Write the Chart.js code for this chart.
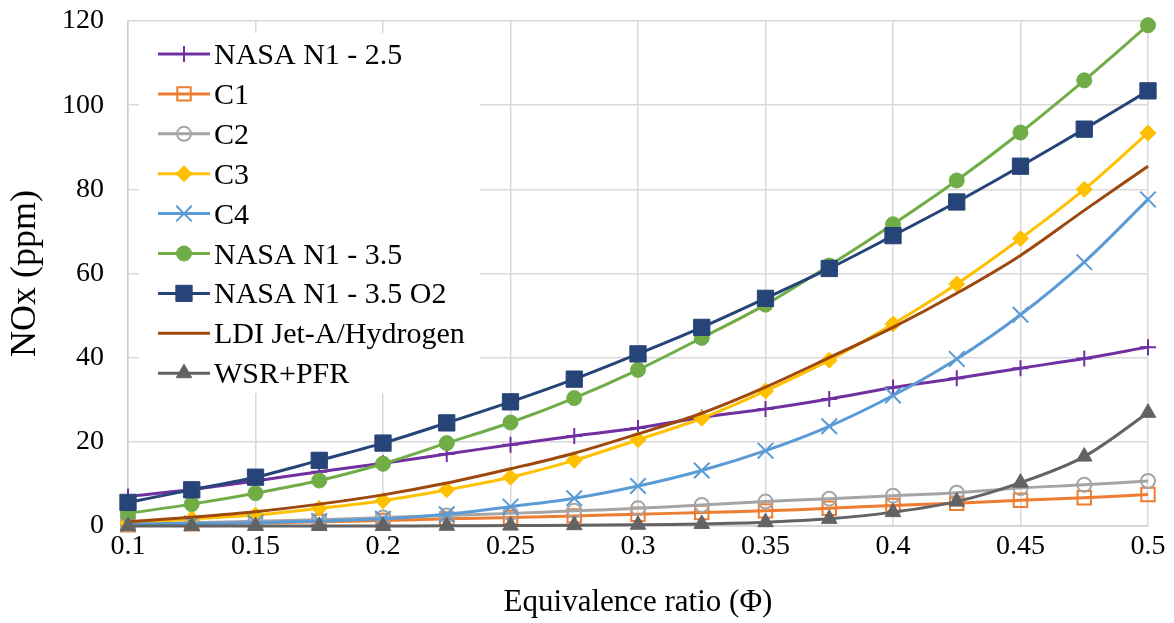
<!DOCTYPE html>
<html>
<head>
<meta charset="utf-8">
<title>NOx vs equivalence ratio</title>
<script src="https://cdn.jsdelivr.net/npm/chart.js"></script>
<style>
    html, body { margin: 0; padding: 0; background: #fff; }
    #nox_chart { display: block; }
</style>
</head>
<body>
<canvas id="nox_chart" width="1174" height="623"></canvas>
<script>
// equivalence ratio points (x)
const phi = [0.1, 0.125, 0.15, 0.175, 0.2, 0.225, 0.25, 0.275, 0.3, 0.325, 0.35, 0.375, 0.4, 0.425, 0.45, 0.475, 0.5];
const xTicks = [0.1, 0.15, 0.2, 0.25, 0.3, 0.35, 0.4, 0.45, 0.5];
const yTicks = [0, 20, 40, 60, 80, 100, 120];

// NOx (ppm)
const nasaN1_25 = [7.0, 8.7, 10.7, 12.9, 14.9, 17.1, 19.3, 21.4, 23.3, 25.8, 27.8, 30.2, 32.9, 35.1, 37.5, 39.8, 42.5];
const c1 = [0.3, 0.5, 0.7, 1.0, 1.3, 1.7, 2.0, 2.4, 2.8, 3.2, 3.6, 4.2, 4.9, 5.4, 6.1, 6.7, 7.5];
const c2 = [0.5, 0.8, 1.1, 1.5, 2.0, 2.5, 3.0, 3.6, 4.2, 5.0, 5.8, 6.5, 7.2, 7.9, 9.0, 9.8, 10.7];
const c3 = [0.7, 1.7, 2.6, 4.2, 6.0, 8.6, 11.6, 15.6, 20.5, 25.6, 32.1, 39.4, 48.0, 57.5, 68.3, 80.0, 93.4];
const c4 = [0.5, 0.6, 0.8, 1.2, 1.7, 2.8, 4.6, 6.6, 9.5, 13.2, 17.9, 23.7, 31.0, 39.7, 50.2, 62.7, 77.6];
const nasaN1_35 = [3.0, 5.2, 7.8, 10.8, 14.8, 19.7, 24.6, 30.4, 37.1, 44.7, 52.6, 61.9, 71.7, 82.1, 93.5, 105.9, 119.0];
const nasaN1_35o2 = [5.6, 8.6, 11.6, 15.6, 19.7, 24.5, 29.5, 34.9, 40.9, 47.2, 54.1, 61.2, 69.0, 77.0, 85.5, 94.3, 103.4];
const ldiJetAH2 = [1.0, 2.1, 3.4, 5.2, 7.4, 10.2, 13.6, 17.3, 21.9, 26.8, 33.0, 40.0, 47.2, 55.3, 64.3, 75.0, 85.5];
const wsrPfr = [0.0, 0.0, 0.0, 0.0, 0.0, 0.05, 0.1, 0.2, 0.3, 0.5, 0.9, 1.7, 3.3, 5.8, 10.3, 16.5, 26.9];

const FONT = "'Liberation Serif', 'Times New Roman', serif";

function series(label, values, color, style) {
    return {
        label,
        data: values.map((v, i) => ({ x: phi[i], y: v })),
        borderColor: color,
        backgroundColor: style.fill === false ? "rgba(255,255,255,0)" : color,
        pointBorderColor: color,
        pointBackgroundColor: style.fill === false ? "rgba(255,255,255,0)" : color,
        pointStyle: style.shape || false,
        pointRadius: style.shape ? style.r : 0,
        pointBorderWidth: style.bw || 1,
        borderWidth: 3,
        tension: 0.33,
        fill: false,
        clip: false
    };
}

const datasets = [
    series("NASA N1 - 2.5", nasaN1_25, "#7030A0", { shape: "cross", r: 8, bw: 2 }),
    series("C1", c1, "#ED7D31", { shape: "rect", r: 9.5, bw: 2, fill: false }),
    series("C2", c2, "#A5A5A5", { shape: "circle", r: 7, bw: 2, fill: false }),
    series("C3", c3, "#FFC000", { shape: "rectRot", r: 8 }),
    series("C4", c4, "#5B9BD5", { shape: "crossRot", r: 11, bw: 2 }),
    series("NASA N1 - 3.5", nasaN1_35, "#70AD47", { shape: "circle", r: 7.5 }),
    series("NASA N1 - 3.5 O2", nasaN1_35o2, "#264478", { shape: "rect", r: 11.5 }),
    series("LDI Jet-A/Hydrogen", ldiJetAH2, "#9E480E", {}),
    series("WSR+PFR", wsrPfr, "#636363", { shape: "triangle", r: 9 })
];
// later series on top, like the original
datasets.forEach((d, i) => { d.order = datasets.length - i; });

// legend box inside the plot, top-left
const boxLegend = {
    id: "boxLegend",
    afterDatasetsDraw(chart) {
        const ctx = chart.ctx;
        ctx.save();
        ctx.fillStyle = "#fff";
        ctx.fillRect(139, 33, 341, 360);
        ctx.font = "30px " + FONT;
        ctx.textBaseline = "alphabetic";
        chart.data.datasets.forEach((d, i) => {
            const y = 54 + i * 39.9;
            ctx.strokeStyle = d.borderColor;
            ctx.lineWidth = d.borderWidth;
            ctx.beginPath();
            ctx.moveTo(158, y);
            ctx.lineTo(210, y);
            ctx.stroke();
            if (d.pointStyle) {
                ctx.fillStyle = d.pointBackgroundColor;
                ctx.strokeStyle = d.pointBorderColor;
                ctx.lineWidth = d.pointBorderWidth;
                Chart.helpers.drawPoint(ctx, {
                    pointStyle: d.pointStyle,
                    radius: d.pointRadius,
                    rotation: 0,
                    borderWidth: d.pointBorderWidth
                }, 184, y);
            }
            ctx.fillStyle = "#000";
            ctx.fillText(d.label, 214, y + 10);
        });
        ctx.restore();
    }
};

new Chart(document.getElementById("nox_chart"), {
    type: "line",
    data: { datasets },
    plugins: [boxLegend],
    options: {
        responsive: false,
        animation: false,
        devicePixelRatio: 1,
        layout: { autoPadding: false, padding: { top: 21, right: 26, left: 0, bottom: 0 } },
        plugins: {
            legend: { display: false },
            tooltip: { enabled: false }
        },
        scales: {
            x: {
                type: "linear",
                min: 0.1,
                max: 0.5,
                afterBuildTicks: (scale) => { scale.ticks = xTicks.map((v) => ({ value: v })); },
                afterFit: (scale) => {
                    scale.height = 97;
                    scale.paddingLeft = 0;
                    scale.paddingRight = 0;
                },
                ticks: {
                    color: "#000",
                    font: { family: FONT, size: 28 },
                    padding: 4,
                    maxRotation: 0,
                    callback: (v) => String(+v.toFixed(3))
                },
                grid: { color: "#d9d9d9", lineWidth: 1.5, drawTicks: false },
                border: { color: "#d0d0d0", width: 1.5 },
                title: {
                    display: true,
                    text: "Equivalence ratio (Φ)",
                    color: "#000",
                    font: { family: FONT, size: 31 },
                    padding: { top: 0, bottom: 2 }
                }
            },
            y: {
                min: 0,
                max: 120,
                afterBuildTicks: (scale) => { scale.ticks = yTicks.map((v) => ({ value: v })); },
                afterFit: (scale) => {
                    scale.width = 128;
                    scale.paddingTop = 0;
                    scale.paddingBottom = 0;
                },
                ticks: {
                    color: "#000",
                    font: { family: FONT, size: 28 },
                    padding: 24
                },
                grid: { color: "#d9d9d9", lineWidth: 1.5, drawTicks: false },
                border: { color: "#d0d0d0", width: 1.5 },
                title: {
                    display: true,
                    text: "NOx (ppm)",
                    color: "#000",
                    font: { family: FONT, size: 36 },
                    padding: { top: 4, bottom: 0 }
                }
            }
        }
    }
});
</script>
</body>
</html>
